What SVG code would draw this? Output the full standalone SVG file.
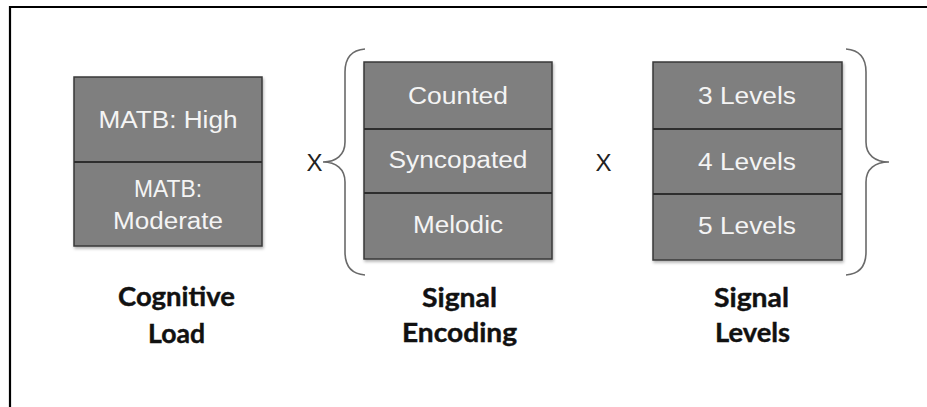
<svg xmlns="http://www.w3.org/2000/svg" width="927" height="407" viewBox="0 0 927 407">
  <style>
    .cell { fill: #7f7f7f; stroke: #3a3a3a; stroke-width: 1.5; }
    .div { stroke: #2e2e2e; stroke-width: 2; }
    .in { font-family: "Liberation Sans", Arial, sans-serif; font-size: 23.5px; fill: #f4f4f4; text-anchor: middle; }
    .cap { font-family: Lato, "Open Sans", sans-serif; font-weight: bold; font-size: 26px; fill: #111; text-anchor: middle; stroke: #111; stroke-width: 0.4; }
    .op { font-family: "Liberation Sans", Arial, sans-serif; font-size: 24px; fill: #222; text-anchor: middle; }
    .brace { fill: none; stroke: #6a6a6a; stroke-width: 1.6; }
    .frame { stroke: #000; stroke-width: 2.2; fill: none; }
  </style>
  <defs>
    <filter id="shadow" x="-10%" y="-10%" width="120%" height="125%">
      <feDropShadow dx="1" dy="2" stdDeviation="1.5" flood-color="#000" flood-opacity="0.3"/>
    </filter>
  </defs>

  <rect x="0" y="0" width="927" height="407" fill="#fff"/>

  <!-- page frame: top and left rules only -->
  <path class="frame" d="M10 407 V7 H927"/>

  <!-- Cognitive Load -->
  <g id="cognitive-load">
    <rect class="cell" x="74" y="77" width="188" height="169" filter="url(#shadow)"/>
    <line class="div" x1="74" y1="162" x2="262" y2="162"/>
    <text class="in" x="168" y="127.5" textLength="139" lengthAdjust="spacingAndGlyphs">MATB: High</text>
    <text class="in" x="168" y="197" textLength="68" lengthAdjust="spacingAndGlyphs">MATB:</text>
    <text class="in" x="168" y="229" textLength="110" lengthAdjust="spacingAndGlyphs">Moderate</text>
    <text class="cap" x="176.5" y="306" textLength="117" lengthAdjust="spacingAndGlyphs">Cognitive</text>
    <text class="cap" x="176.5" y="343" textLength="57" lengthAdjust="spacingAndGlyphs">Load</text>
  </g>

  <!-- Signal Encoding -->
  <g id="signal-encoding">
    <rect class="cell" x="364" y="62" width="188" height="197" filter="url(#shadow)"/>
    <line class="div" x1="364" y1="129" x2="552" y2="129"/>
    <line class="div" x1="364" y1="193" x2="552" y2="193"/>
    <text class="in" x="458" y="104" textLength="100" lengthAdjust="spacingAndGlyphs">Counted</text>
    <text class="in" x="458" y="168" textLength="139" lengthAdjust="spacingAndGlyphs">Syncopated</text>
    <text class="in" x="458" y="233" textLength="90" lengthAdjust="spacingAndGlyphs">Melodic</text>
    <text class="cap" x="459.5" y="307" textLength="75" lengthAdjust="spacingAndGlyphs">Signal</text>
    <text class="cap" x="459.5" y="342" textLength="115" lengthAdjust="spacingAndGlyphs">Encoding</text>
  </g>

  <!-- Signal Levels -->
  <g id="signal-levels">
    <rect class="cell" x="653" y="62" width="189" height="198" filter="url(#shadow)"/>
    <line class="div" x1="653" y1="129" x2="842" y2="129"/>
    <line class="div" x1="653" y1="194" x2="842" y2="194"/>
    <text class="in" x="747" y="104" textLength="98" lengthAdjust="spacingAndGlyphs">3 Levels</text>
    <text class="in" x="747" y="170" textLength="98" lengthAdjust="spacingAndGlyphs">4 Levels</text>
    <text class="in" x="747" y="234" textLength="98" lengthAdjust="spacingAndGlyphs">5 Levels</text>
    <text class="cap" x="751.5" y="307" textLength="75" lengthAdjust="spacingAndGlyphs">Signal</text>
    <text class="cap" x="752.5" y="342" textLength="75" lengthAdjust="spacingAndGlyphs">Levels</text>
  </g>

  <!-- braces and multiplication signs -->
  <g id="connectors">
    <path class="brace" d="M365 49 C352 50 345 58 345 72 V142 C345 155 336 162 323 162 C336 162 345 169 345 182 V252 C345 266 352 274 365 275"/>
    <path class="brace" d="M846 49 C859 50 866 58 866 72 V142 C866 155 875 162 889 162 C875 162 866 169 866 182 V252 C866 266 859 274 846 275"/>
    <text class="op" x="314.5" y="171">X</text>
    <text class="op" x="603.5" y="171">X</text>
  </g>
</svg>
